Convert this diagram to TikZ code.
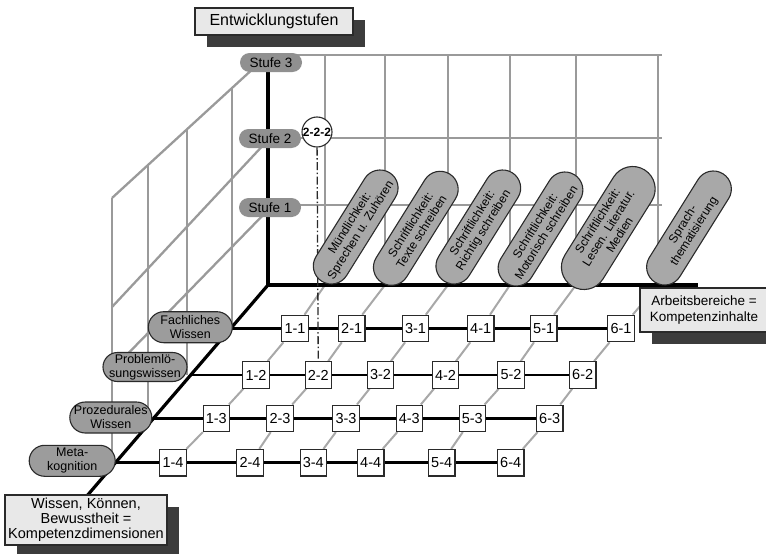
\documentclass[tikz,border=0pt]{standalone}
\usepackage{fontspec}
\setmainfont{Liberation Sans}
\usetikzlibrary{shadows}
\pgfdeclarelayer{bg}
\pgfsetlayers{bg,main}
\definecolor{gridgray}{HTML}{9A9A9A}
\definecolor{floorgray}{HTML}{A8A8A8}
\definecolor{pillfill}{HTML}{9C9C9C}
\definecolor{colfill}{HTML}{A8A8A8}
\definecolor{stufefill}{HTML}{909090}
\definecolor{boxfill}{HTML}{E8E8E8}
\definecolor{shadowc}{HTML}{3C3C3C}
\definecolor{edge}{HTML}{2A2A2A}
\begin{document}
\begin{tikzpicture}[x=1pt,y=-1pt,
  gridline/.style={gridgray, line width=2.3pt},
  floorline/.style={floorgray, line width=2pt},
  axisline/.style={black, line width=3.2pt, line join=miter},
  rowline/.style={black, line width=2.8pt},
  guide/.style={edge, line width=1.3pt, dash pattern=on 8pt off 2.5pt on 1.5pt off 2.5pt},
  cell/.style={draw=edge, fill=white, line width=1.1pt, minimum width=26.5pt, minimum height=26.5pt, inner sep=0pt, font=\fontsize{14.5}{14.5}\selectfont},
  rowpill/.style={draw=edge, fill=pillfill, line width=1.1pt, align=center, inner sep=0pt, font=\fontsize{12.5}{14}\selectfont},
  stufepill/.style={fill=stufefill, minimum width=62pt, minimum height=19pt, rounded corners=9.5pt, inner sep=0pt, font=\fontsize{13.5}{13.5}\selectfont},
  colpill/.style={draw=edge, fill=colfill, line width=1.1pt, rotate=58, align=center, inner sep=1pt, minimum width=128pt, minimum height=36pt, rounded corners=18pt, font=\fontsize{12}{13}\selectfont},
  textbox/.style={draw=edge, fill=boxfill, line width=1.1pt, align=center, inner sep=0pt, general shadow={fill=shadowc, shadow xshift=12pt, shadow yshift=-12pt}}
]
\useasboundingbox (0,0) rectangle (766,554);
\clip (0,0) rectangle (766,554);

% axis points
\coordinate (O) at (268,285);
\coordinate (vtop) at (268,60);
\coordinate (bend) at (698,285);
\coordinate (dend) at (86,497);
\coordinate (r1) at (230.5,328.5);
\coordinate (r2) at (190,375);
\coordinate (r3) at (152.5,418.3);
\coordinate (r4) at (114,462.7);
\coordinate (c1) at (325,285);
\coordinate (c2) at (385,285);
\coordinate (c3) at (448,285);
\coordinate (c4) at (510,285);
\coordinate (c5) at (576,285);
\coordinate (c6) at (658,285);

% cells
\node[cell] (n11) at (295,328.5) {1-1};
\node[cell] (n21) at (351.7,328.5) {2-1};
\node[cell] (n31) at (415.5,328.5) {3-1};
\node[cell] (n41) at (480.7,328.5) {4-1};
\node[cell] (n51) at (543.7,328.5) {5-1};
\node[cell] (n61) at (621,328.5) {6-1};
\node[cell] (n12) at (256,375) {1-2};
\node[cell] (n22) at (318.3,375) {2-2};
\node[cell] (n32) at (380.5,375) {3-2};
\node[cell] (n42) at (445.5,375) {4-2};
\node[cell] (n52) at (511,375) {5-2};
\node[cell] (n62) at (582.7,375) {6-2};
\node[cell] (n13) at (216.3,418.3) {1-3};
\node[cell] (n23) at (280,418.3) {2-3};
\node[cell] (n33) at (346,418.3) {3-3};
\node[cell] (n43) at (409.3,418.3) {4-3};
\node[cell] (n53) at (472.3,418.3) {5-3};
\node[cell] (n63) at (549.7,418.3) {6-3};
\node[cell] (n14) at (173,462.7) {1-4};
\node[cell] (n24) at (250,462.7) {2-4};
\node[cell] (n34) at (313.3,462.7) {3-4};
\node[cell] (n44) at (370.7,462.7) {4-4};
\node[cell] (n54) at (441.7,462.7) {5-4};
\node[cell] (n64) at (510.7,462.7) {6-4};

% row labels
\node[rowpill, minimum width=84pt, minimum height=31pt, rounded corners=15.5pt] (fw) at (190.3,327.2) {Fachliches\\Wissen};
\node[rowpill, minimum width=84pt, minimum height=29pt, rounded corners=14.5pt] (pl) at (145,367) {Problemlö-\\sungswissen};
\node[rowpill, minimum width=82pt, minimum height=31pt, rounded corners=15.5pt] (pz) at (110.8,417.5) {Prozedurales\\Wissen};
\node[rowpill, minimum width=86pt, minimum height=31pt, rounded corners=15.5pt] (mk) at (72.2,460.8) {Meta-\\kognition};

% level labels
\node[stufepill] (s3) at (271,62.5) {Stufe 3};
\node[stufepill] (s2) at (270,138.5) {Stufe 2};
\node[stufepill] (s1) at (270,207.5) {Stufe 1};

% column labels
\node[colpill] (k1) at (355.7,227) {Mündlichkeit:\\Sprechen u. Zuhören};
\node[colpill] (k2) at (415.8,228.3) {Schriftlichkeit:\\Texte schreiben};
\node[colpill] (k3) at (478.3,227) {Schriftlichkeit:\\Richtig schreiben};
\node[colpill] (k4) at (540.5,229) {Schriftlichkeit:\\Motorisch schreiben};
\node[colpill, minimum width=137pt, minimum height=45pt, rounded corners=22.5pt] (k5) at (608.3,228) {Schriftlichkeit:\\Lesen. Literatur.\\Medien};
\node[colpill] (k6) at (689,228) {Sprach-\\thematisierung};

% 2-2-2 marker
\node[circle, draw=edge, fill=white, line width=1.1pt, minimum size=30pt, inner sep=0pt, font=\bfseries\fontsize{12}{12}\selectfont] (m222) at (317,132) {2-2-2};

% text boxes
\node[textbox, minimum width=158pt, minimum height=27pt, font=\fontsize{16}{16}\selectfont] (ent) at (274,21.5) {Entwicklungstufen};
\node[textbox, minimum width=128pt, minimum height=44pt, font=\fontsize{13.5}{16}\selectfont] (arb) at (704,310) {Arbeitsbereiche =\\Kompetenzinhalte};
\node[textbox, minimum width=162pt, minimum height=50pt, font=\fontsize{14.5}{15}\selectfont] (wkb) at (86,520) {Wissen, Können,\\Bewusstheit =\\Kompetenzdimensionen};

\begin{pgfonlayer}{bg}
  % back wall
  \draw[gridline] (268,55) -- (662,55);
  \draw[gridline] (268,138) -- (662,138);
  \draw[gridline] (268,205) -- (662,205);
  \foreach \x in {325,385,448,510,576,658} \draw[gridline] (\x,55) -- (\x,285);
  % left wall
  \draw[gridline] (268,55) -- (112,198);
  \draw[gridline] (268,140) -- (112,307);
  \draw[gridline] (268,210) -- (112,370);
  \draw[gridline] (112,198) -- (112,462);
  \draw[gridline] (148,164.6) -- (148,418);
  \draw[gridline] (187,129) -- (187,375);
  \draw[gridline] (232,88) -- (232,328);
  % floor columns
  \draw[floorline] (c1) -- (n11) -- (n12) -- (n13) -- (n14);
  \draw[floorline] (c2) -- (n21) -- (n22) -- (n23) -- (n24);
  \draw[floorline] (c3) -- (n31) -- (n32) -- (n33) -- (n34);
  \draw[floorline] (c4) -- (n41) -- (n42) -- (n43) -- (n44);
  \draw[floorline] (c5) -- (n51) -- (n52) -- (n53) -- (n54);
  \draw[floorline] (c6) -- (n61) -- (n62) -- (n63) -- (n64);
  % axes
  \draw[axisline] (vtop) -- (O) -- (bend);
  \draw[axisline] (O) -- (dend);
  % rows
  \draw[rowline] (r1) -- (n11) -- (n21) -- (n31) -- (n41) -- (n51) -- (n61);
  \draw[rowline] (r2) -- (n12) -- (n22) -- (n32) -- (n42) -- (n52) -- (n62);
  \draw[rowline] (r3) -- (n13) -- (n23) -- (n33) -- (n43) -- (n53) -- (n63);
  \draw[rowline] (r4) -- (n14) -- (n24) -- (n34) -- (n44) -- (n54) -- (n64);
  % guide from marker
  \draw[guide] (m222) -- (n22);
\end{pgfonlayer}
\end{tikzpicture}
\end{document}
